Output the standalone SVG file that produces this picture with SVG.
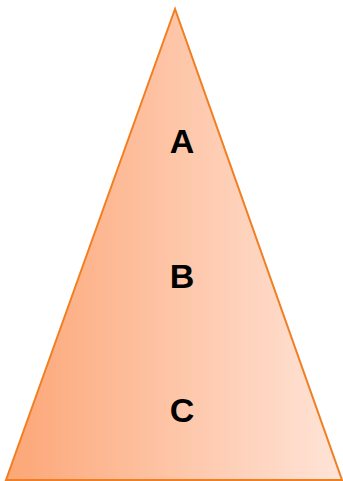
<svg xmlns="http://www.w3.org/2000/svg" width="343" height="481" viewBox="0 0 343 481">
<defs>
<linearGradient id="g" x1="0" y1="0" x2="1" y2="0">
<stop offset="0" stop-color="#FCA676"/>
<stop offset="1" stop-color="#FFE4D8"/>
</linearGradient>
<style>
.lbl{font-family:"Liberation Sans",Arial,sans-serif;font-weight:bold;font-size:34px;fill:#000;text-anchor:middle}
</style>
</defs>
<g id="pyramid">
<polygon points="175,9 6,480 342,480" fill="url(#g)" stroke="#F07F23" stroke-width="2" stroke-linejoin="miter"/>
</g>
<g id="A"><text class="lbl" x="182" y="153">A</text></g>
<g id="B"><text class="lbl" x="182" y="288">B</text></g>
<g id="C"><text class="lbl" x="182" y="422">C</text></g>
<g id="connectors"/>
</svg>
